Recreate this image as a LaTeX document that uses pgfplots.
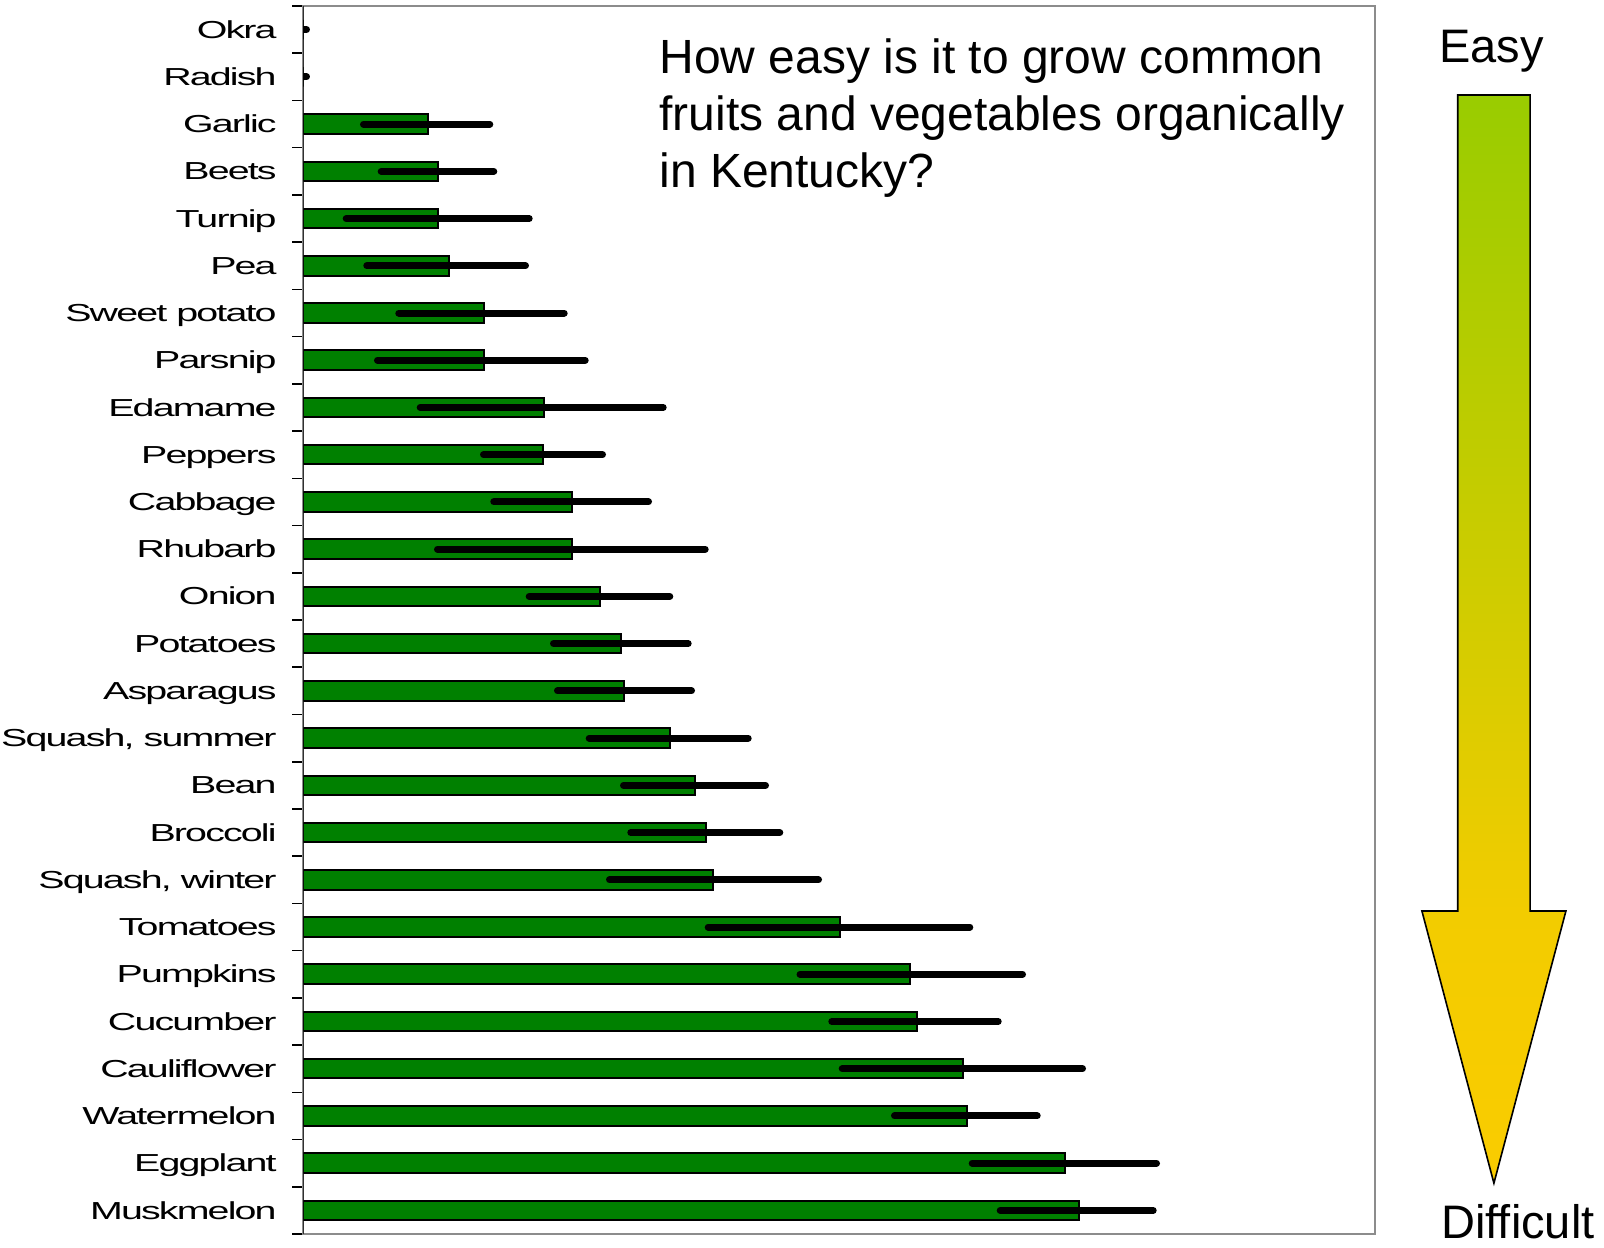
\documentclass[border=0pt]{standalone}
\usepackage{fontspec}
\setmainfont{Liberation Sans}
\newfontfamily\labfont{Liberation Sans}[FakeStretch=1.6, LetterSpace=-7.5]
\usepackage{graphicx}
\usepackage{pgfplots}
\pgfplotsset{compat=1.18}
\usepackage{pgfplotstable}
\definecolor{bargreen}{RGB}{0,128,0}
\definecolor{framegray}{RGB}{140,140,140}
\definecolor{arrowgreen}{RGB}{153,204,0}
\definecolor{arrowyellowA}{RGB}{242,204,0}
\definecolor{arrowyellowB}{RGB}{250,204,0}
\pgfdeclareverticalshading{arrowshade}{100bp}{color(0bp)=(arrowyellowB); color(25bp)=(arrowyellowB); color(37.5bp)=(arrowyellowA); color(75bp)=(arrowgreen); color(100bp)=(arrowgreen)}

\pgfplotstableread{
idx v ep em
0 0 3 0
1 0 3 0
2 124.2 62.1 64.2
3 134.5 55.8 56.8
4 134.5 91.2 91.8
5 145.2 76.8 81.9
6 180.5 80.2 85.2
7 180.5 101.2 106.5
8 240.2 119.5 123.5
9 239.8 59.2 59.8
10 268.2 76.8 77.9
11 268.2 133.5 134.2
12 296.5 69.8 70.8
13 317.5 67.2 67.5
14 320.8 67.2 66.8
15 366.8 77.9 81.1
16 391.8 70.2 71.8
17 402.2 74.1 74.9
18 409.8 105.2 103.8
19 536.5 129.8 131.8
20 606.5 112.5 110.0
21 613.8 80.9 85.5
22 659.5 119.5 120.8
23 663.2 70.5 72.2
24 761.5 91.5 92.8
25 775.5 74.2 78.8
}\difficulty

\begin{document}
\begin{tikzpicture}
\path[use as bounding box] (-151.75pt,-6.5pt) rectangle (650.25pt,617pt);
\begin{axis}[
  at={(0pt,0pt)}, anchor=south west,
  scale only axis, width=535.75pt, height=614pt,
  xmin=0, xmax=1071.5, ymin=-0.5, ymax=25.5, y dir=reverse,
  xtick=\empty,
  ytick={0,...,25},
  yticklabels={Okra,Radish,Garlic,Beets,Turnip,Pea,Sweet potato,Parsnip,Edamame,Peppers,Cabbage,Rhubarb,Onion,Potatoes,Asparagus,{Squash, summer},Bean,Broccoli,{Squash, winter},Tomatoes,Pumpkins,Cucumber,Cauliflower,Watermelon,Eggplant,Muskmelon},
  minor ytick={-0.5,0.5,...,25.5},
  ytick pos=left, tick align=outside,
  major tick length=0pt, minor tick length=5.5pt,
  minor tick style={black, line width=0.8pt},
  yticklabel style={font=\labfont\fontsize{12.3pt}{14pt}\selectfont, anchor=base east, inner sep=0pt, xshift=-13.25pt, yshift=-4.3pt},
  axis line style={framegray, line width=1pt},
  xbar, bar width=0.413,
]
\addplot[fill=bargreen, draw=black, line width=1pt,
  error bars/.cd, x dir=both, x explicit, error mark=none,
  error bar style={draw=black, line width=3.5pt, line cap=round}]
  table[x=v, y=idx, x error plus=ep, x error minus=em] {\difficulty};
\draw[black, line width=1pt] (rel axis cs:0,0) -- (rel axis cs:0,1);
\end{axis}
\node[anchor=base west, inner sep=0pt, font=\fontsize{24pt}{28pt}\selectfont] at (177.75pt,580.15pt) {How easy is it to grow common};
\node[anchor=base west, inner sep=0pt, font=\fontsize{24pt}{28pt}\selectfont] at (177.75pt,551.5pt) {fruits and vegetables organically};
\node[anchor=base west, inner sep=0pt, font=\fontsize{24pt}{28pt}\selectfont] at (177.75pt,523.25pt) {in Kentucky?};
\shadedraw[shading=arrowshade, draw=black, line width=0.8pt, line join=miter]
  (577.1pt,569.5pt) -- (613.3pt,569.5pt) -- (613.3pt,161.5pt) -- (631.2pt,161.5pt)
  -- (595.2pt,25.4pt) -- (559.2pt,161.5pt) -- (577.1pt,161.5pt) -- cycle;
\node[anchor=base, inner sep=0pt, font=\fontsize{23.5pt}{28pt}\selectfont] at (594pt,585.5pt) {Easy};
\node[anchor=base, inner sep=0pt, font=\fontsize{23.5pt}{28pt}\selectfont] at (607.25pt,-2pt) {Difficult};
\end{tikzpicture}
\end{document}
